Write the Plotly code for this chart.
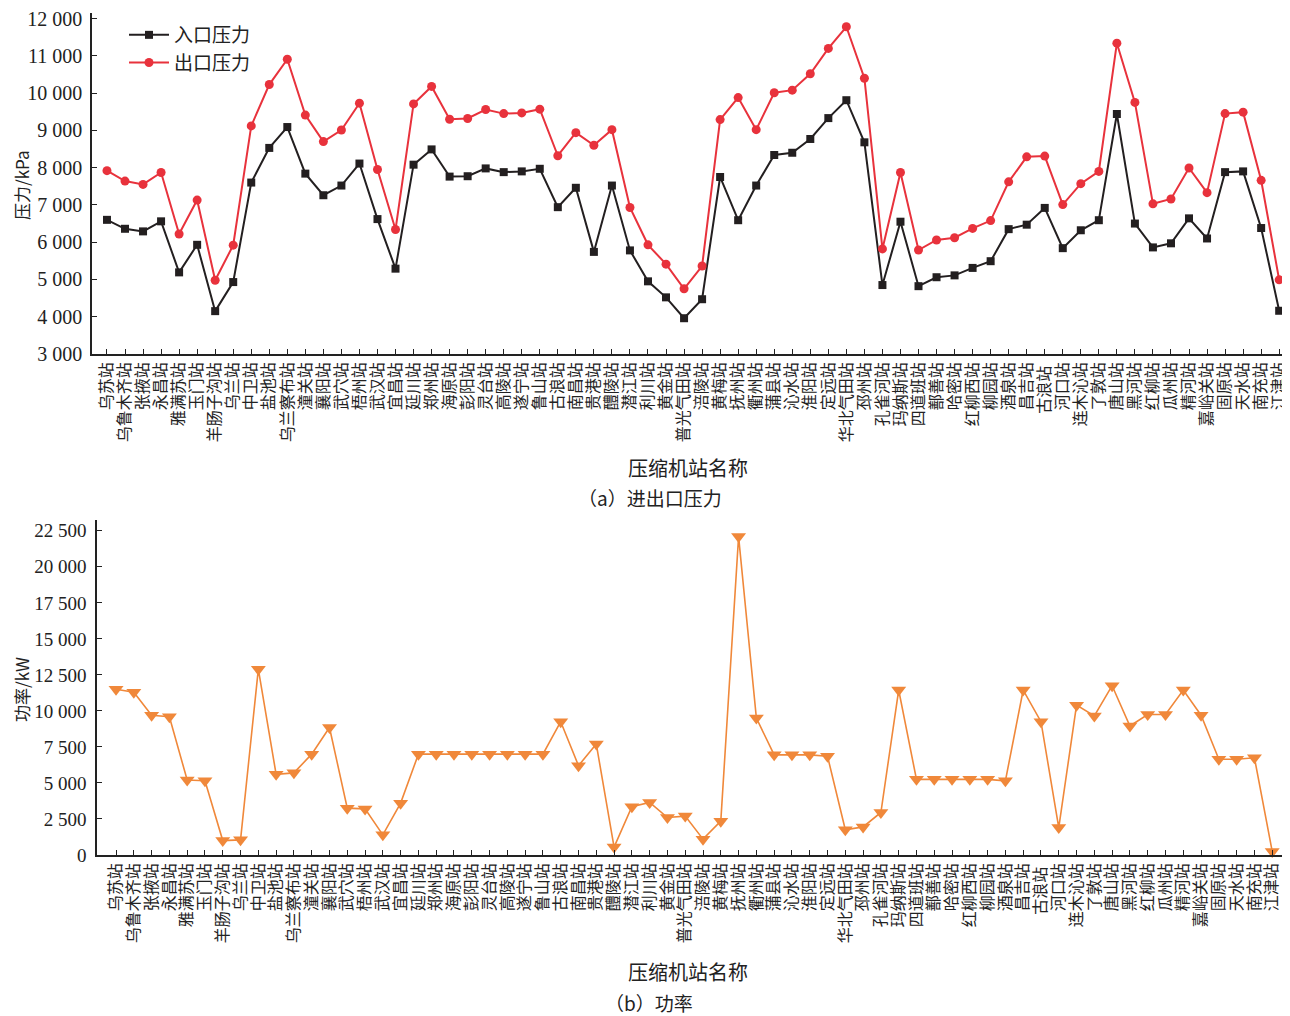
import plotly.graph_objects as go
from plotly.subplots import make_subplots

stations = ["乌苏站", "乌鲁木齐站", "张掖站", "永昌站", "雅满苏站", "玉门站", "羊肠子沟站", "乌兰站",
            "中卫站", "盐池站", "乌兰察布站", "潼关站", "襄阳站", "武穴站", "梧州站", "武汉站",
            "宜昌站", "延川站", "郑州站", "海原站", "彭阳站", "灵台站", "高陵站", "遂宁站",
            "鲁山站", "古浪站", "南昌站", "贵港站", "醴陵站", "潜江站", "利川站", "黄金站",
            "普光气田站", "涪陵站", "黄梅站", "抚州站", "衢州站", "蒲县站", "沁水站", "淮阳站",
            "定远站", "华北气田站", "邳州站", "孔雀河站", "玛纳斯站", "四道班站", "鄯善站", "哈密站",
            "红柳西站", "柳园站", "酒泉站", "昌吉站", "古浪站 ", "河口站", "连木沁站", "了敦站",
            "唐山站", "黑河站", "红柳站", "瓜州站", "精河站", "嘉峪关站", "固原站", "天水站",
            "南充站", "江津站"]

inlet_pressure = [6600, 6360, 6290, 6560, 5190, 5930, 4150, 4930,
                  7600, 8530, 9090, 7840, 7260, 7520, 8110, 6620,
                  5290, 8080, 8490, 7760, 7770, 7980, 7880, 7900,
                  7970, 6940, 7460, 5740, 7520, 5780, 4950, 4520,
                  3960, 4470, 7750, 6590, 7520, 8340, 8400, 8770,
                  9330, 9810, 8680, 4850, 6550, 4820, 5060, 5110,
                  5310, 5490, 6350, 6470, 6920, 5840, 6320, 6590,
                  9440, 6500, 5860, 5970, 6640, 6100, 7880, 7900,
                  6380, 4160]

outlet_pressure = [7920, 7640, 7550, 7870, 6220, 7130, 4980, 5920,
                   9120, 10230, 10910, 9410, 8700, 9010, 9730, 7950,
                   6340, 9710, 10180, 9300, 9320, 9560, 9450, 9470,
                   9570, 8320, 8940, 8600, 9020, 6930, 5930, 5410,
                   4750, 5360, 9290, 9880, 9020, 10010, 10080, 10520,
                   11200, 11780, 10400, 5820, 7870, 5790, 6060, 6120,
                   6370, 6580, 7620, 8290, 8310, 7010, 7570, 7900,
                   11340, 9750, 7030, 7160, 7990, 7330, 9450, 9490,
                   7660, 4990]

power = [11500, 11300, 9700, 9600, 5200, 5150, 1000, 1050,
         12900, 5600, 5700, 7000, 8850, 3250, 3200, 1400,
         3600, 7000, 7000, 7000, 7000, 7000, 7000, 7000,
         7000, 9250, 6200, 7700, 550, 3350, 3650, 2600,
         2700, 1100, 2350, 22100, 9500, 6950, 6950, 6950,
         6850, 1750, 1950, 2950, 11450, 5250, 5250, 5250,
         5250, 5250, 5150, 11450, 9250, 1900, 10400, 9650,
         11750, 8950, 9750, 9750, 11450, 9700, 6650, 6650,
         6750, 250]

p_ticks = [3000, 4000, 5000, 6000, 7000, 8000, 9000, 10000, 11000, 12000]
p_ticklabels = ["3 000", "4 000", "5 000", "6 000", "7 000", "8 000", "9 000", "10 000", "11 000", "12 000"]
w_ticks = [0, 2500, 5000, 7500, 10000, 12500, 15000, 17500, 20000, 22500]
w_ticklabels = ["0", "2 500", "5 000", "7 500", "10 000", "12 500", "15 000", "17 500", "20 000", "22 500"]

CJK = "Noto Sans CJK SC"
SERIF = "Liberation Serif"

# page body has an 8px margin: build the figure 8px smaller and shift coordinates
OFF = 8
W, H = 1290 - OFF, 1016 - OFF
L, R, T = 92 - OFF, 0, 13 - OFF
B = H - (855 - OFF)
plot_h = H - T - B
plot_w = W - L - R

def py(p):  # screen pixel y -> paper y
    return 1 - (p - OFF - T) / plot_h

def px(p):  # screen pixel x -> paper x
    return (p - OFF - L) / plot_w

fig = make_subplots(rows=2, cols=1, vertical_spacing=0.0)
xidx = list(range(len(stations)))

fig.add_trace(go.Scatter(x=xidx, y=inlet_pressure, name="入口压力", mode="lines+markers",
                         line=dict(color="#231f20", width=2),
                         marker=dict(symbol="square", size=8, color="#231f20")), row=1, col=1)
fig.add_trace(go.Scatter(x=xidx, y=outlet_pressure, name="出口压力", mode="lines+markers",
                         line=dict(color="#e8323c", width=2),
                         marker=dict(symbol="circle", size=9, color="#e8323c")), row=1, col=1)
fig.add_trace(go.Scatter(x=xidx, y=power, name="功率", mode="lines+markers", showlegend=False,
                         cliponaxis=False,
                         line=dict(color="#f0883a", width=1.6),
                         marker=dict(symbol="triangle-down", size=13, color="#f0883a")), row=2, col=1)

xaxis_common = dict(tickmode="array", tickvals=xidx, ticktext=stations, tickangle=-90,
                    tickfont=dict(family=CJK, size=16, color="#222"),
                    showline=True, linecolor="#222", linewidth=1.5, ticks="inside",
                    ticklen=5, tickcolor="#222", showgrid=False, zeroline=False,
                    automargin=False, ticklabeloverflow="allow")
fig.update_xaxes(**xaxis_common)
# top panel: first station at x=107, spacing ~18.0 px
fig.update_xaxes(domain=[0, 1], range=[-0.83, 65.6], row=1, col=1)
# bottom panel: axis at x=97, first station at x=116, last at x=1272
fig.update_xaxes(domain=[px(97), 1], range=[-1.07, 66.0], row=2, col=1)
fig.update_yaxes(showline=True, linecolor="#222", linewidth=1.5, ticks="inside", ticklen=5,
                 tickcolor="#222", showgrid=False, zeroline=False, automargin=False,
                 ticklabelstandoff=4, ticklabeloverflow="allow",
                 tickfont=dict(family=SERIF, size=20, color="#222"))
fig.update_yaxes(tickmode="array", tickvals=p_ticks, ticktext=p_ticklabels, range=[3000, 12150],
                 domain=[py(354), 1.0], row=1, col=1)
fig.update_yaxes(tickmode="array", tickvals=w_ticks, ticktext=w_ticklabels, range=[0, 23250],
                 domain=[0, py(520)], tickfont=dict(family=SERIF, size=19, color="#222"),
                 ticklabelstandoff=5, row=2, col=1)

ann = [
    dict(text="压缩机站名称", x=px(688), y=py(467), font=dict(size=20)),
    dict(text="（a）进出口压力", x=px(650), y=py(497), font=dict(size=19)),
    dict(text="压缩机站名称", x=px(688), y=py(971), font=dict(size=20)),
    dict(text="（b）功率", x=px(649), y=py(1003), font=dict(size=19)),
    dict(text="压力/kPa", x=px(21), y=py(185), textangle=-90, font=dict(size=17)),
    dict(text="功率/kW", x=px(21), y=py(690), textangle=-90, font=dict(size=17)),
]
for a in ann:
    f = dict(family=CJK, color="#222")
    f.update(a.pop("font"))
    fig.add_annotation(xref="paper", yref="paper", showarrow=False, xanchor="center", yanchor="middle",
                       font=f, **a)

fig.update_layout(
    width=W, height=H, margin=dict(l=L, r=R, t=T, b=B, autoexpand=False),
    paper_bgcolor="white", plot_bgcolor="white",
    legend=dict(x=px(124), y=py(16), xanchor="left", yanchor="top",
                font=dict(family=CJK, size=19, color="#222"), bgcolor="rgba(0,0,0,0)",
                tracegroupgap=0, itemwidth=40),
)

fig.write_html("out.html")
